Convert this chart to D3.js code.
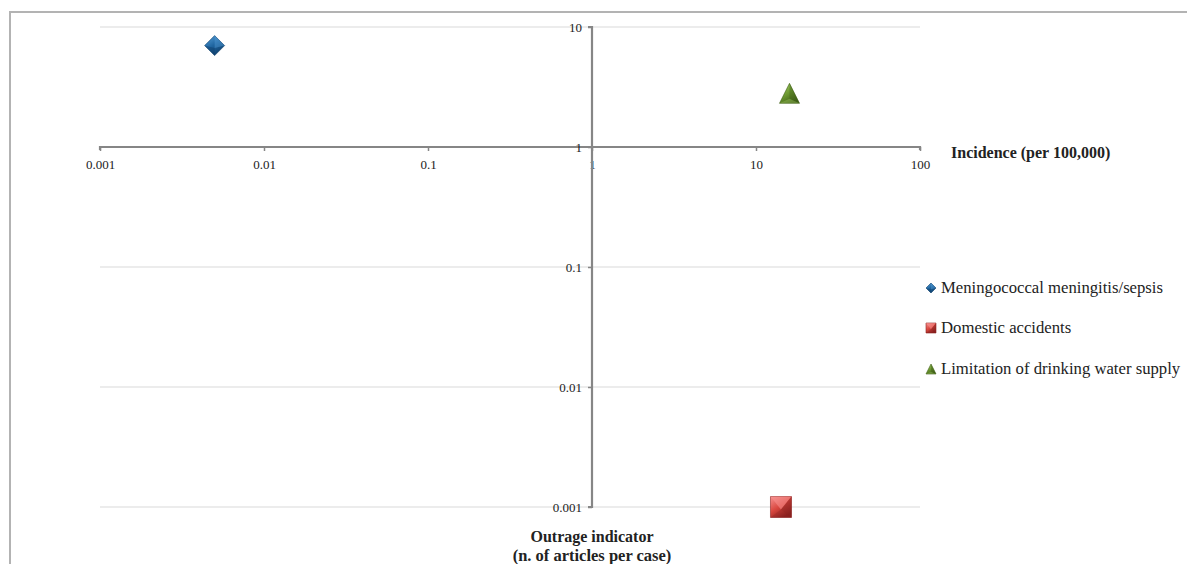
<!DOCTYPE html>
<html><head><meta charset="utf-8">
<script src="https://cdn.jsdelivr.net/npm/d3@7"></script>
<style>html,body{margin:0;padding:0;background:#fff;}svg{display:block;}</style>
</head><body>
<svg id="c" width="1187" height="564"></svg>
<script>
const seriesNames = ["Meningococcal meningitis/sepsis", "Domestic accidents", "Limitation of drinking water supply"];
const seriesOutrage = [0.005, 14.2, 16];      // x: outrage indicator
const seriesIncidence = [7, 0.001, 2.8];      // y: incidence per 100,000
const seriesShapes = ["diamond", "square", "triangle"];
const seriesColors = [["#5aa3dc", "#1f65a0", "#0f3f6b"], ["#f79190", "#d9473f", "#8b2220"], ["#a8d06a", "#6e9a32", "#3f5f17"]];
const xTicks = [0.001, 0.01, 0.1, 1, 10, 100];
const yTicks = [0.001, 0.01, 0.1, 1, 10];
const xTickLabels = ["0.001", "0.01", "0.1", "1", "10", "100"];
const yTickLabels = ["0.001", "0.01", "0.1", "1", "10"];

const svg = d3.select("#c");
const font = "'Liberation Serif', 'DejaVu Serif', serif";

// frame
svg.append("rect").attr("x", 10).attr("y", 12).attr("width", 1200).attr("height", 600)
  .attr("fill", "none").attr("stroke", "#b3b3b3").attr("stroke-width", 2);

const x = d3.scaleLog().domain([0.001, 100]).range([100, 920]);
const y = d3.scaleLog().domain([0.001, 10]).range([507, 27]);

// gradients
const defs = svg.append("defs");
seriesColors.forEach((c, i) => {
  const g = defs.append("linearGradient").attr("id", "g" + i).attr("x1", 0).attr("y1", 0).attr("x2", 0.6).attr("y2", 1);
  g.append("stop").attr("offset", "0%").attr("stop-color", c[0]);
  g.append("stop").attr("offset", "55%").attr("stop-color", c[1]);
  g.append("stop").attr("offset", "100%").attr("stop-color", c[2]);
});

// gridlines
svg.append("g").selectAll("line").data(yTicks).join("line")
  .attr("x1", 100).attr("x2", 920)
  .attr("y1", d => y(d)).attr("y2", d => y(d))
  .attr("stroke", "#d9d9d9").attr("stroke-width", 1);

// x axis at y=1
const xAxis = d3.axisBottom(x).tickValues(xTicks).tickFormat((d, i) => xTickLabels[i]).tickSize(4).tickPadding(9);
const gx = svg.append("g").attr("transform", `translate(0,${y(1)})`).call(xAxis);
gx.select(".domain").attr("stroke", "#868686").attr("stroke-width", 2.2).attr("d", `M100,3V0H920V3`);
gx.selectAll(".tick line").attr("stroke", "#868686").attr("stroke-width", 1.5);
gx.selectAll(".tick text").attr("font-family", font).attr("font-size", 13).attr("fill", "#222");

// y axis at x=1
const yAxis = d3.axisLeft(y).tickValues(yTicks).tickFormat((d, i) => yTickLabels[i]).tickSize(4).tickPadding(6);
const gy = svg.append("g").attr("transform", `translate(${x(1)},0)`).call(yAxis);
gy.select(".domain").attr("stroke", "#868686").attr("stroke-width", 2.2).attr("d", `M-4,27H0V507H-4`);
gy.selectAll(".tick line").attr("stroke", "#868686").attr("stroke-width", 1.5);
gy.selectAll(".tick text").attr("font-family", font).attr("font-size", 13).attr("fill", "#222");

// axis titles
svg.append("text").attr("x", 951).attr("y", 158).attr("font-family", font).attr("font-weight", "bold")
  .attr("font-size", 16).attr("fill", "#222").text("Incidence (per 100,000)");
svg.append("text").attr("x", x(1)).attr("y", 542).attr("text-anchor", "middle").attr("font-family", font)
  .attr("font-weight", "bold").attr("font-size", 16).attr("fill", "#222").text("Outrage indicator");
svg.append("text").attr("x", x(1)).attr("y", 561).attr("text-anchor", "middle").attr("font-family", font)
  .attr("font-weight", "bold").attr("font-size", 16.5).attr("fill", "#222").text("(n. of articles per case)");

function shapePath(shape, s) {
  const h = s / 2;
  if (shape === "diamond") return `M0,${-h}L${h},0L0,${h}L${-h},0Z`;
  if (shape === "square") return `M${-h},${-h}H${h}V${h}H${-h}Z`;
  return `M0,${-h}L${h},${h}H${-h}Z`;
}
function drawMarker(g, shape, i, s) {
  g.append("path").attr("d", shapePath(shape, s)).attr("fill", `url(#g${i})`).attr("stroke", seriesColors[i][2]).attr("stroke-width", 0.6);
  const h = s / 2, k = s * 0.12;
  if (shape === "square") {
    g.append("path").attr("d", `M${-h},${-h}L0,${k}L${h},${-h}Z`).attr("fill", seriesColors[i][0]).attr("opacity", 0.55);
    g.append("path").attr("d", `M${h},${-h}L0,${k}L${h},${h}Z`).attr("fill", seriesColors[i][2]).attr("opacity", 0.5);
    g.append("path").attr("d", `M${-h},${h}L0,${k}L${h},${h}Z`).attr("fill", seriesColors[i][2]).attr("opacity", 0.3);
  } else if (shape === "diamond") {
    g.append("path").attr("d", `M0,${-h}L0,${k}L${h},0Z`).attr("fill", seriesColors[i][0]).attr("opacity", 0.4);
    g.append("path").attr("d", `M${-h},0L0,${k}L0,${h}Z`).attr("fill", seriesColors[i][2]).attr("opacity", 0.45);
  } else {
    g.append("path").attr("d", `M0,${-h}L0,${h*0.55}L${h},${h}Z`).attr("fill", seriesColors[i][2]).attr("opacity", 0.4);
    g.append("path").attr("d", `M${-h},${h}L0,${h*0.55}L${h},${h}Z`).attr("fill", seriesColors[i][0]).attr("opacity", 0.35);
  }
}

// points
seriesNames.forEach((n, i) => {
  const g = svg.append("g").attr("transform", `translate(${x(seriesOutrage[i])},${y(seriesIncidence[i])})`);
  const size = seriesShapes[i] === "square" ? 21 : 20;
  drawMarker(g, seriesShapes[i], i, size);
});

// legend
const legY = [288, 328, 369];
seriesNames.forEach((n, i) => {
  const g = svg.append("g").attr("transform", `translate(931,${legY[i]})`);
  drawMarker(g, seriesShapes[i], i, 10);
  svg.append("text").attr("x", 941).attr("y", legY[i] + 5).attr("font-family", font).attr("font-size", 16.7)
    .attr("fill", "#222").text(n);
});
</script>
</body></html>
